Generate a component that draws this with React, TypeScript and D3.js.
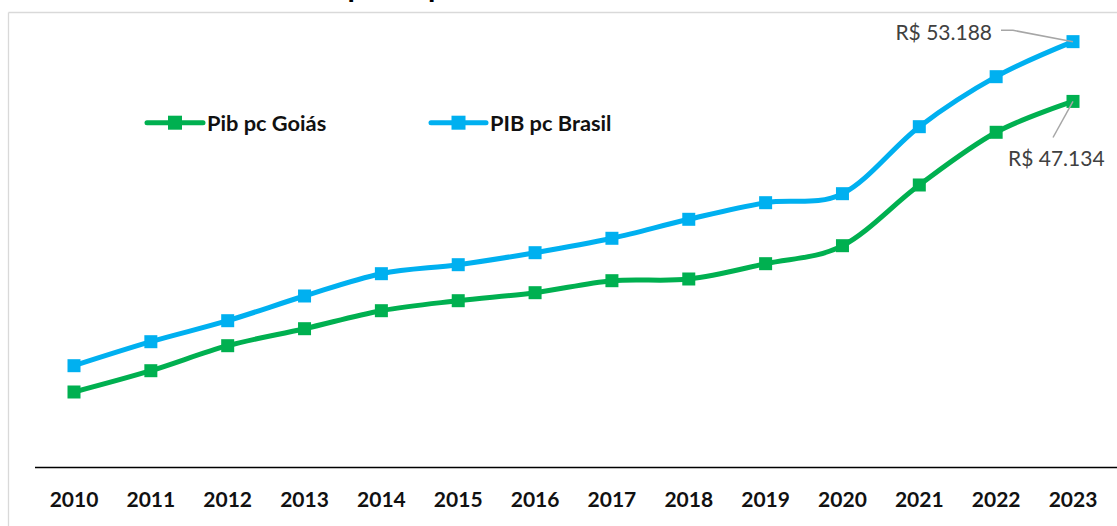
import React from "react";
import * as d3 from "d3";

const years = ["2010","2011","2012","2013","2014","2015","2016","2017","2018","2019","2020","2021","2022","2023"];
const goias = [17699,19856,22389,24111,25934,26947,27758,28973,29146,30696,32519,38668,44006,47134];
const brasil = [20363,22794,24921,27424,29683,30594,31810,33269,35193,36875,37787,44574,49639,53188];
const seriesNames = ["Pib pc Goiás", "PIB pc Brasil"];
const seriesColors = ["#00B050", "#00B0F0"];
const titleText = "PIB per capita";
const yDomain = [10000, 60000];

const W = 1117, H = 526;

export default function App() {
  const x = d3.scalePoint<string>().domain(years).range([74, 1073]);
  const y = d3.scaleLinear().domain(yDomain).range([468, -25.6]);
  const line = d3
    .line<number>()
    .x((_, i) => x(years[i]) as number)
    .y((d) => y(d))
    .curve(d3.curveCardinal.tension(0));
  const series = [goias, brasil];
  const ms = 13;
  const font = "Lato, 'Open Sans', sans-serif";
  const lastX = x(years[years.length - 1]) as number;
  const bY = y(brasil[brasil.length - 1]);
  const gY = y(goias[goias.length - 1]);
  const fmt = (v: number) => "R$ " + d3.format(",")(v).replace(/,/g, ".");
  const legend = [
    { x1: 147, x2: 203, tx: 207 },
    { x1: 431, x2: 486, tx: 490 },
  ];
  return (
    <svg
      width={W}
      height={H}
      style={{ position: "fixed", left: 0, top: 0, background: "#fff" }}
      fontFamily={font}
    >
      <rect x={0} y={0} width={W} height={H} fill="#fff" />
      {/* chart area border */}
      <line x1={8.5} y1={12.5} x2={W} y2={12.5} stroke="#D9D9D9" strokeWidth={1.3} />
      <line x1={8.5} y1={12.5} x2={8.5} y2={H} stroke="#D9D9D9" strokeWidth={1.3} />
      {/* title, clipped at the top edge as in the reference */}
      <text x={293} y={-3} fontSize={30} fontWeight="bold" fill="#000">
        {titleText}
      </text>
      {/* axis */}
      <line x1={35} y1={467.5} x2={W} y2={467.5} stroke="#000" strokeWidth={1.5} />
      {years.map((yr) => (
        <text
          key={yr}
          x={x(yr) as number}
          y={506.5}
          textAnchor="middle"
          fontSize={21}
          fontWeight="bold"
          fill="#111"
        >
          {yr}
        </text>
      ))}
      {/* lines */}
      {series.map((s, si) => (
        <g key={si}>
          <path d={line(s) || ""} fill="none" stroke={seriesColors[si]} strokeWidth={5} strokeLinejoin="round" />
          {s.map((v, i) => (
            <rect
              key={i}
              x={(x(years[i]) as number) - ms / 2}
              y={y(v) - ms / 2}
              width={ms}
              height={ms}
              fill={seriesColors[si]}
            />
          ))}
        </g>
      ))}
      {/* legend */}
      {legend.map((l, i) => (
        <g key={i}>
          <line x1={l.x1} y1={122.7} x2={l.x2} y2={122.7} stroke={seriesColors[i]} strokeWidth={5} strokeLinecap="round" />
          <rect x={(l.x1 + l.x2) / 2 - 7} y={122.7 - 7} width={14} height={14} fill={seriesColors[i]} />
          <text x={l.tx} y={130.5} fontSize={21.8} fontWeight="bold" fill="#111">
            {seriesNames[i]}
          </text>
        </g>
      ))}
      {/* data labels */}
      <polyline
        points={`1001,30.3 1013,30.3 ${lastX},${bY}`}
        fill="none"
        stroke="#A6A6A6"
        strokeWidth={1.5}
      />
      <text x={992} y={39.5} textAnchor="end" fontSize={21} fill="#404040">
        {fmt(brasil[brasil.length - 1])}
      </text>
      <line x1={1053} y1={137.5} x2={lastX} y2={gY} stroke="#A6A6A6" strokeWidth={1.5} />
      <text x={1008} y={165.8} fontSize={21} fill="#404040">
        {fmt(goias[goias.length - 1])}
      </text>
    </svg>
  );
}
